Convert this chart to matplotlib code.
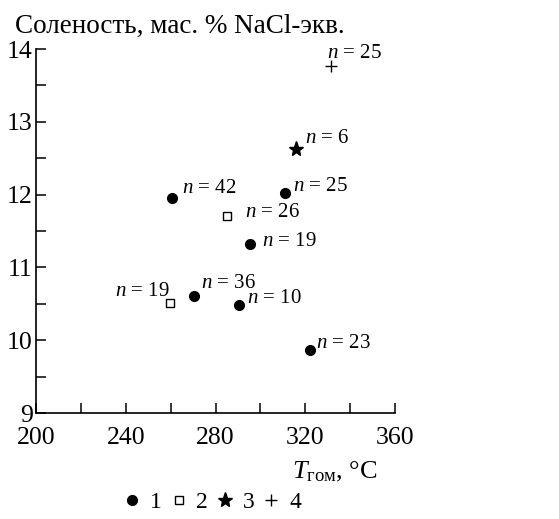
import matplotlib
matplotlib.use("Agg")
import matplotlib.pyplot as plt
from matplotlib.lines import Line2D
from matplotlib.ticker import MultipleLocator, FuncFormatter

plt.rcParams['font.family'] = ['Liberation Serif', 'DejaVu Serif']
plt.rcParams['mathtext.fontset'] = 'custom'
plt.rcParams['mathtext.rm'] = 'Liberation Serif'
plt.rcParams['mathtext.it'] = 'Liberation Serif:italic'

# Data: homogenization temperature (°C) vs salinity (wt% NaCl-eq)
t1 = [260.4, 310.8, 295.2, 270.4, 290.5, 322.0]
s1 = [11.95, 12.02, 11.32, 10.61, 10.48, 9.87]
n1 = [42, 25, 19, 36, 10, 23]

t2 = [285.0, 259.9]
s2 = [11.71, 10.51]
n2 = [26, 19]

t3 = [315.9]
s3 = [12.63]
n3 = [6]

t4 = [331.5]
s4 = [13.77]
n4 = [25]

legend_labels = ['1', '2', '3', '4']

# label offsets in pixels (dx, dy, ha)
off1 = [(10, 10, 'left'), (8, 7, 'left'), (12, 3, 'left'), (7, 12, 'left'), (8, 7, 'left'), (6, 6, 'left')]
off2 = [(18, 3, 'left'), (-1, 12, 'right')]
off3 = [(9, 10, 'left')]
off4 = [(-4, 12, 'left')]

fig = plt.figure(figsize=(5.59, 5.19), dpi=100)
ax = fig.add_axes([36/559, 1-413/519, 359/559, 364/519])

ax.plot(t1, s1, 'o', color='black', ms=7, clip_on=False)
ax.plot(t2, s2, 's', mfc='white', mec='black', mew=1.0, ms=6, clip_on=False)
ax.plot(t3, s3, '*', color='black', ms=11, clip_on=False)
ax.plot(t4, s4, '+', color='black', ms=9, mew=1.0, clip_on=False)

fs_ann = 15
for xs, ys, ns, offs in [(t1, s1, n1, off1), (t2, s2, n2, off2), (t3, s3, n3, off3), (t4, s4, n4, off4)]:
    for x, y, n, (dx, dy, ha) in zip(xs, ys, ns, offs):
        ax.annotate(r'$n$ = %d' % n, (x, y), xytext=(dx, dy), textcoords='offset pixels',
                    ha=ha, va='center', fontsize=fs_ann)

ax.set_xlim(200, 360)
ax.set_ylim(9, 14)
ax.spines['top'].set_visible(False)
ax.spines['right'].set_visible(False)
for sp in ['left', 'bottom']:
    ax.spines[sp].set_linewidth(1.2)

ax.xaxis.set_major_locator(MultipleLocator(20))
ax.yaxis.set_major_locator(MultipleLocator(0.5))
ax.xaxis.set_major_formatter(FuncFormatter(lambda v, p: '%d' % v if abs(v % 40) < 1e-6 else ''))
ax.yaxis.set_major_formatter(FuncFormatter(lambda v, p: '%d' % v if abs(v - round(v)) < 1e-6 else ''))
ax.tick_params(direction='in', length=7, width=1.1, labelsize=18.5)
ax.tick_params(axis='x', pad=10)
ax.tick_params(axis='y', pad=2.5)

fig.text(15/559, 1-33/519, 'Соленость, мас. % NaCl-экв.', fontsize=19.5, va='baseline', ha='left')
fig.text(292/559, 1-478/519, r'$T_{\mathrm{гом}}$, °C', fontsize=19, va='baseline', ha='left')

handles = [
    Line2D([], [], ls='', marker='o', color='black', ms=7),
    Line2D([], [], ls='', marker='s', mfc='white', mec='black', mew=1.0, ms=6),
    Line2D([], [], ls='', marker='*', color='black', ms=11),
    Line2D([], [], ls='', marker='+', color='black', ms=9, mew=1.0),
]
fig.legend(handles, legend_labels, ncol=4, loc='center', bbox_to_anchor=(213/559, 1-502/519),
           frameon=False, fontsize=17, handlelength=0.6, handletextpad=0.45, columnspacing=0.42)

fig.savefig('out.png', dpi=100)
